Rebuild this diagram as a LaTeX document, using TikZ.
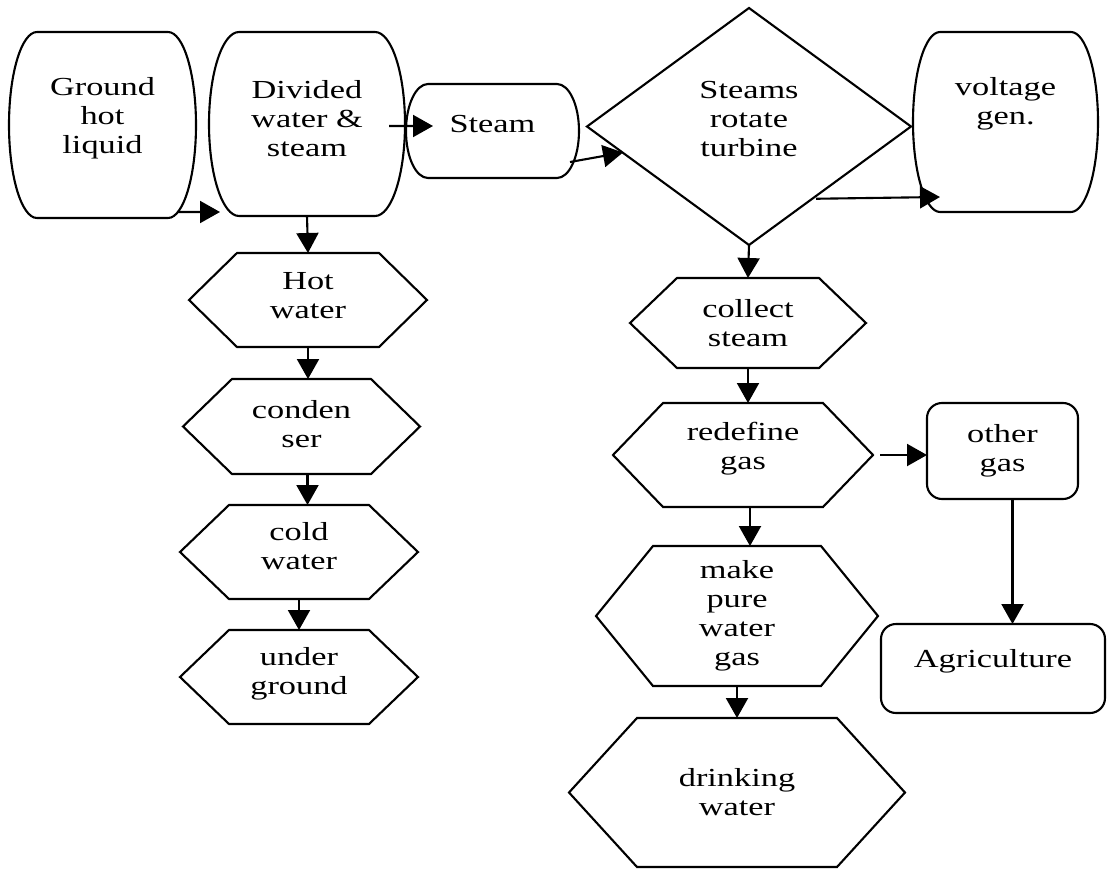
\documentclass[tikz,border=0pt]{standalone}
\usepackage{fontspec}
\setmainfont{Liberation Serif}[FakeStretch=1.32]
\usetikzlibrary{arrows.meta,shapes.geometric}

\begin{document}
\begin{tikzpicture}[
        line width=1.5pt,
        font=\fontsize{18.5}{20.6}\selectfont,
        every node/.style={align=center, inner sep=0pt, outer sep=0pt},
        flow/.style={-{Triangle[length=0.5cm, width=0.55cm]}},
        lift/.style={text depth=#1},
        barrel/.style n args={3}{
            minimum width=#1,
            minimum height=#2,
            append after command={\pgfextra{
                \draw (\tikzlastnode.north west) -- (\tikzlastnode.north east)
                    arc[start angle=90, end angle=-90, x radius=#3, y radius=#2/2]
                    -- (\tikzlastnode.south west)
                    arc[start angle=270, end angle=90, x radius=#3, y radius=#2/2]
                    -- cycle;
            }}
        },
        hexagon/.style n args={3}{
            minimum width=#1,
            minimum height=#2,
            append after command={\pgfextra{
                \draw ([xshift=#3]\tikzlastnode.north west)
                    -- ([xshift=-#3]\tikzlastnode.north east)
                    -- (\tikzlastnode.east)
                    -- ([xshift=-#3]\tikzlastnode.south east)
                    -- ([xshift=#3]\tikzlastnode.south west)
                    -- (\tikzlastnode.west) -- cycle;
            }}
        },
        roundbox/.style={draw, rounded corners=0.375cm}
    ]

        \useasboundingbox (0,0) rectangle (27.7,-21.725);

        % top row
        \node (1) [
            barrel={3.275cm}{4.65cm}{0.7cm},
            lift=14pt
        ] at (2.5625,-3.125) {Ground\\hot\\liquid};

        \node (2) [
            barrel={3.4cm}{4.6cm}{0.75cm},
            lift=8.5pt
        ] at (7.675,-3.1) {Divided\\water \&\\steam};

        \node (3) [
            barrel={3.225cm}{2.35cm}{0.55cm},
            lift=10pt
        ] at (12.3125,-3.275) {Steam};

        \node (4) [
            diamond,
            draw,
            minimum width=8.1cm,
            minimum height=5.925cm,
            lift=11.4pt
        ] at (18.725,-3.1625) {Steams\\rotate\\turbine};

        \node (5) [
            barrel={3.275cm}{4.5cm}{0.675cm},
            lift=29.6pt
        ] at (25.1375,-3.05) {voltage\\gen.};

        % left column
        \node (6) [hexagon={5.95cm}{2.35cm}{1.2cm}, lift=7pt] at (7.7,-7.5) {Hot\\water};
        \node (7) [hexagon={5.925cm}{2.375cm}{1.225cm}, lift=3pt] at (7.5375,-10.6625) {conden\\ser};
        \node (8) [hexagon={5.95cm}{2.35cm}{1.225cm}, lift=8.5pt] at (7.475,-13.8) {cold\\water};
        \node (9) [hexagon={5.95cm}{2.35cm}{1.225cm}, lift=8.3pt] at (7.475,-16.925) {under\\ground};

        % right column
        \node (10) [hexagon={5.9cm}{2.25cm}{1.175cm}] at (18.7,-8.075) {collect\\steam};
        \node (11) [
            hexagon={6.5cm}{2.6cm}{1.25cm},
            lift=12.5pt
        ] at (18.575,-11.375) {redefine\\gas};
        \node (12) [hexagon={7.05cm}{3.5cm}{1.425cm}] at (18.425,-15.4) {make\\pure\\water\\gas};
        \node (13) [hexagon={8.4cm}{3.725cm}{1.7cm}] at (18.425,-19.8125) {drinking\\water};

        \node (14) [
            roundbox,
            minimum width=3.775cm,
            minimum height=2.4cm
        ] at (25.0625,-11.275) {other\\gas};

        \node (15) [
            roundbox,
            minimum width=5.6cm,
            minimum height=2.225cm,
            lift=14.7pt
        ] at (24.825,-16.7125) {Agriculture};

        \draw[flow] ([shift={(0.225,0.15)}]1.south east) -- ([shift={(-0.475,0.1)}]2.south west);
        \draw[flow] ([shift={(0.35,-0.05)}]2.east) -- ([shift={(0.125,0.125)}]3.west);
        \draw[flow] ([shift={(0.325,0.4)}]3.south east) -- ([shift={(0.9,-0.65)}]4.west);
        \draw[flow] ([shift={(-0.35,-0.325)}]4.south east) -- ([yshift=0.375cm]5.south west);
        \draw[flow] (4.south) -- (10.north);

        \draw[flow] (2.south) -- (6.north);
        \draw[flow] (6.south) -- (6.south |- 7.north);
        \draw[flow] ([xshift=0.15cm]7.south) -- ([xshift=0.15cm]7.south |- 8.north);
        \draw[flow] (8.south) -- (9.north);

        \draw[flow] (10.south) -- (10.south |- 11.north);
        \draw[flow] ([xshift=0.175cm]11.south) -- ([xshift=0.175cm]11.south |- 12.north);
        \draw[flow] (12.south) -- (12.south |- 13.north);
        \draw[flow] ([xshift=0.175cm]11.east) -- (11.east -| 14.west);
        \draw[flow] ([xshift=0.25cm]14.south) -- ([xshift=0.25cm]14.south |- 15.north);
    \end{tikzpicture}
\end{document}
